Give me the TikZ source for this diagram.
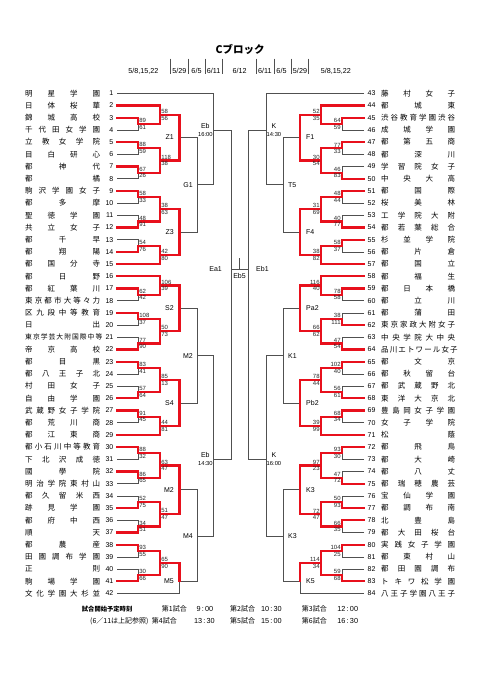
\documentclass[tikz,border=0pt]{standalone}
\usepackage{fontspec}
\setmainfont{Noto Sans CJK JP}
\newfontfamily\lat{Liberation Sans}
\definecolor{ln}{HTML}{505050}
\definecolor{rd}{HTML}{E8101C}
\pgfmathdeclarefunction{ry}{1}{\pgfmathparse{93.3+12.2*(#1-1)}}
\newcommand\defside[7]{%
 \foreach \mm/\rr in {A34/3.5,A56/5.5,A78/7.5,A910/9.5,A1112/11.5,A1314/13.5,A1718/17.5,A1920/19.5,A2122/21.5,A2324/23.5,A2526/25.5,A2728/27.5,A3031/30.5,A3233/32.5,A3435/34.5,A3637/36.5,A3839/38.5,A4041/40.5}
   {\coordinate (#1\mm) at (#2,{ry(\rr)});}
 \foreach \mm/\rr in {B2/2.75,B58/6.5,B912/10.5,B1315/14.25,B16/16.75,B1922/20.5,B2326/24.5,B2729/28.25,B3033/31.5,B3437/35.5,B3841/39.5}
   {\coordinate (#1\mm) at (#3,{ry(\rr)});}
 \foreach \mm/\rr in {Z1/4.625,Z3/12.375,S2/18.625,S4/26.375,M2b/33.5,M5/41}
   {\coordinate (#1\mm) at (#4,{ry(\rr)});}
 \foreach \mm/\rr in {G1/8.5,M2/22.5,M4/37.3}
   {\coordinate (#1\mm) at (#5,{ry(\rr)});}
 \coordinate (#1EbT) at (#6,130);
 \coordinate (#1EbL) at (#6,459);
 \coordinate (#1C) at (#7,269);
}
\newcommand\drawstruct[2]{%
 \foreach \aa/\bb in {1/EbT,2/B2,3/A34,4/A34,5/A56,6/A56,7/A78,8/A78,9/A910,10/A910,11/A1112,12/A1112,13/A1314,14/A1314,15/B1315,16/B16,17/A1718,18/A1718,19/A1920,20/A1920,21/A2122,22/A2122,23/A2324,24/A2324,25/A2526,26/A2526,27/A2728,28/A2728,29/B2729,30/A3031,31/A3031,32/A3233,33/A3233,34/A3435,35/A3435,36/A3637,37/A3637,38/A3839,39/A3839,40/A4041,41/A4041,42/M5}
  {\draw[bk] (#1t\aa.#2) -| (#1\bb);}
 \foreach \aa/\bb in {A34/B2,A56/B58,A78/B58,A910/B912,A1112/B912,A1314/B1315,A1718/B16,A1920/B1922,A2122/B1922,A2324/B2326,A2526/B2326,A2728/B2729,A3031/B3033,A3233/B3033,A3435/B3437,A3637/B3437,A3839/B3841,A4041/B3841,B2/Z1,B58/Z1,B912/Z3,B1315/Z3,B16/S2,B1922/S2,B2326/S4,B2729/S4,B3033/M2b,B3437/M2b,B3841/M5,Z1/G1,Z3/G1,S2/M2,S4/M2,M2b/M4,M5/M4,G1/EbT,M2/EbL,M4/EbL,EbT/C,EbL/C}
  {\draw[bk] (#1\aa) -| (#1\bb);}
}
\newcommand\redmatch[1]{%
 \foreach \aa/\bb in {A34/B2,A56/B58,A78/B58,A910/B912,A1112/B912,A1314/B1315,A1718/B16,A1920/B1922,A2122/B1922,A2324/B2326,A2526/B2326,A2728/B2729,A3031/B3033,A3233/B3033,A3435/B3437,A3637/B3437,A3839/B3841,A4041/B3841,B2/Z1,B58/Z1,B912/Z3,B1315/Z3,B16/S2,B1922/S2,B2326/S4,B2729/S4,B3033/M2b,B3437/M2b,B3841/M5}
  {\draw[rl] (#1\aa) -| (#1\bb);}
}
\begin{document}
\begin{tikzpicture}[x=1pt,y=-1pt,
  bk/.style={draw=ln,line width=0.7pt},
  rl/.style={draw=rd,line width=2.2pt,line cap=rect},
  num/.style={font=\lat\fontsize{7}{7}\selectfont,inner xsep=3.5pt,inner ysep=0pt},
  nmx/.style={font=\fontsize{7.5}{7.5}\selectfont,inner sep=0pt,anchor=west},
  sc/.style={font=\lat\fontsize{6}{6}\selectfont,inner sep=0pt,text=black!85},
  lb/.style={font=\lat\fontsize{7}{7}\selectfont,inner sep=1pt},
  tm/.style={font=\lat\fontsize{5.8}{5.8}\selectfont,inner sep=0.5pt},
  dt/.style={font=\lat\fontsize{7.2}{7.2}\selectfont,inner sep=0pt},
  ft/.style={font=\fontsize{7}{7}\selectfont,inner sep=0pt,anchor=west},
  ftt/.style={font=\lat\fontsize{7.3}{7.3}\selectfont,inner sep=0pt,anchor=east}]
\fill[white] (0,0) rectangle (481,680);
\useasboundingbox (0,0) rectangle (481,680);
% header
\node[font=\bfseries\fontsize{10.5}{10.5}\selectfont,inner sep=0pt] (title) at (240,49) {Cブロック};
\node[dt] (d1) at (143.3,71) {5/8,15,22};
\node[dt] (d2) at (179.4,71) {5/29};
\node[dt] (d3) at (196.5,71) {6/5};
\node[dt] (d4) at (213.7,71) {6/11};
\node[dt] (d5) at (239.7,71) {6/12};
\node[dt] (d6) at (264.8,71) {6/11};
\node[dt] (d7) at (281.5,71) {6/5};
\node[dt] (d8) at (300,71) {5/29};
\node[dt] (d9) at (335.8,71) {5/8,15,22};
\foreach \x in {170.3,188.7,205,222.3,256.7,274,291,308.3}
  \draw[ln,line width=0.5pt] (\x,58.5) -- (\x,74);
% left teams
\foreach \i/\nm in {1/{明 星 学 園},2/{日 体 桜 華},3/{錦 城 高 校},4/{千 代 田 女 学 園},5/{立 教 女 学 院},6/{目 白 研 心},7/{都 神 代},8/{都 橘},9/{駒 沢 学 園 女 子},10/{都 多 摩},11/{聖 徳 学 園},12/{共 立 女 子},13/{都 千 早},14/{都 翔 陽},15/{都 国 分 寺},16/{都 日 野},17/{都 紅 葉 川},18/{東 京 都 市 大 等 々 力},19/{区 九 段 中 等 教 育},20/{日 出},21/{\fontsize{6.8}{6.8}\selectfont 東 京 学 芸 大 附 国 際 中 等},22/{帝 京 高 校},23/{都 目 黒},24/{都 八 王 子 北},25/{村 田 女 子},26/{自 由 学 園},27/{武 蔵 野 女 子 学 院},28/{都 荒 川 商},29/{都 江 東 商},30/{都 小 石 川 中 等 教 育},31/{下 北 沢 成 徳},32/{國 學 院},33/{明 治 学 院 東 村 山},34/{都 久 留 米 西},35/{跡 見 学 園},36/{都 府 中 西},37/{順 天},38/{都 農 産},39/{田 園 調 布 学 園},40/{正 則},41/{駒 場 学 園},42/{文 化 学 園 大 杉 並}}{
  \node[num,anchor=east] (Lt\i) at (117,{ry(\i)}) {\i};
  \node[nmx] (Ln\i) at (25,{ry(\i)}) {\makebox[75pt][s]{\nm}};
}
% right teams
\foreach \i/\nm in {1/{藤 村 女 子},2/{都 城 東},3/{渋 谷 教 育 学 園 渋 谷},4/{成 城 学 園},5/{都 第 五 商},6/{都 深 川},7/{学 習 院 女 子},8/{中 央 大 高},9/{都 国 際},10/{桜 美 林},11/{工 学 院 大 附},12/{都 若 葉 総 合},13/{杉 並 学 院},14/{都 片 倉},15/{都 国 立},16/{都 福 生},17/{都 日 本 橋},18/{都 立 川},19/{都 蒲 田},20/{東 京 家 政 大 附 女 子},21/{中 央 学 院 大 中 央},22/{品 川 エ ト ワ ー ル 女 子},23/{都 文 京},24/{都 秋 留 台},25/{都 武 蔵 野 北},26/{東 洋 大 京 北},27/{豊 島 岡 女 子 学 園},28/{女 子 学 院},29/{松 蔭},30/{都 飛 鳥},31/{都 大 崎},32/{都 八 丈},33/{都 瑞 穂 農 芸},34/{宝 仙 学 園},35/{都 調 布 南},36/{北 豊 島},37/{都 大 田 桜 台},38/{実 践 女 子 学 園},39/{都 東 村 山},40/{都 田 園 調 布},41/{ト キ ワ 松 学 園},42/{八 王 子 学 園 八 王 子}}{
  \pgfmathtruncatemacro\jj{\i+42}
  \node[num,anchor=west] (Rt\i) at (364,{ry(\i)}) {\jj};
  \node[nmx] (Rn\i) at (381,{ry(\i)}) {\makebox[74pt][s]{\nm}};
}
% bracket coordinates
\defside{L}{138}{160}{179.5}{197}{213.3}{231}
\defside{R}{342}{321}{300}{283}{266}{248}
\coordinate (tk) at (239.5,258);
% black structure
\drawstruct{L}{east}
\drawstruct{R}{west}
\draw[bk] (LC) -- (RC);
\draw[bk] (tk) -- (tk |- LC);
% red paths
\redmatch{L}
\redmatch{R}
\foreach \aa/\bb in {2/B2,3/A34,5/A56,7/A78,9/A910,12/A1112,14/A1314,15/B1315,16/B16,17/A1718,19/A1920,22/A2122,23/A2324,26/A2526,27/A2728,29/B2729,30/A3031,32/A3233,35/A3435,37/A3637,38/A3839,41/A4041}
  {\draw[rl] (Lt\aa.east) -| (L\bb);}
\foreach \aa/\bb in {2/B2,3/A34,5/A56,8/A78,9/A910,12/A1112,13/A1314,15/B1315,16/B16,17/A1718,20/A1920,22/A2122,23/A2324,26/A2526,27/A2728,29/B2729,30/A3031,33/A3233,35/A3435,36/A3637,38/A3839,41/A4041}
  {\draw[rl] (Rt\aa.west) -| (R\bb);}
% scores
\foreach \mm/\scA/\scB in {A34/89/61,B2/58/56,A56/88/59,A78/67/26,B58/118/38,A910/58/33,A1112/48/91,B912/38/63,A1314/54/76,B1315/42/80,A1718/62/42,B16/106/39,A1920/108/37,A2122/77/90,B1922/50/73,A2324/83/41,A2526/57/64,B2326/85/13,A2728/91/45,B2729/44/81,A3031/88/32,A3233/86/65,B3033/63/47,A3435/52/75,A3637/34/51,B3437/51/47,A3839/93/55,A4041/30/66,B3841/65/90}{
  \node[sc,anchor=south west] (Lsa\mm) at ([xshift=1.2pt,yshift=1pt]L\mm) {\scA};
  \node[sc,anchor=north west] (Lsb\mm) at ([xshift=1.2pt,yshift=-1pt]L\mm) {\scB};
}
\foreach \mm/\scA/\scB in {A34/64/59,B2/52/35,A56/77/33,A78/46/83,B58/30/54,A910/48/44,A1112/40/77,B912/31/69,A1314/58/37,B1315/38/82,A1718/78/58,B16/116/40,A1920/38/111,A2122/47/54,B1922/66/62,A2324/102/40,A2526/56/61,B2326/78/44,A2728/68/34,B2729/39/99,A3031/93/30,A3233/47/72,B3033/97/23,A3435/50/93,A3637/66/35,B3437/72/47,A3839/104/25,A4041/59/68,B3841/114/34}{
  \node[sc,anchor=south east] (Rsa\mm) at ([xshift=-1.2pt,yshift=1pt]R\mm) {\scA};
  \node[sc,anchor=north east] (Rsb\mm) at ([xshift=-1.2pt,yshift=-1pt]R\mm) {\scB};
}
% round labels
\foreach \mm/\tx in {Z1/Z1,Z3/Z3,S2/S2,S4/S4,M2b/M2,M5/M5}
  {\node[lb,anchor=east] (Llb\mm) at ([xshift=-4.5pt]L\mm) {\tx};}
\foreach \mm/\tx in {G1/G1,M2/M2,M4/M4}
  {\node[lb,anchor=east] (Llb\mm) at ([xshift=-3pt]L\mm) {\tx};}
\foreach \mm/\tx in {Z1/F1,Z3/F4,S2/Pa2,S4/Pb2,M2b/K3,M5/K5}
  {\node[lb,anchor=west] (Rlb\mm) at ([xshift=5pt]R\mm) {\tx};}
\foreach \mm/\tx in {G1/T5,M2/K1,M4/K3}
  {\node[lb,anchor=west] (Rlb\mm) at ([xshift=4pt]R\mm) {\tx};}
% Eb / K labels with times
\node[tm,anchor=north east] (LEbTt) at ([yshift=-1.5pt]LEbT) {16:00};
\node[lb,anchor=south] (LEbTl) at ([yshift=1.5pt]LEbTt.north) {Eb};
\node[tm,anchor=north east] (LEbLt) at ([yshift=-1.5pt]LEbL) {14:30};
\node[lb,anchor=south] (LEbLl) at ([yshift=1.5pt]LEbLt.north) {Eb};
\node[tm,anchor=north west] (REbTt) at ([yshift=-1.5pt]REbT) {14:30};
\node[lb,anchor=south] (REbTl) at ([yshift=1.5pt]REbTt.north) {K};
\node[tm,anchor=north west] (REbLt) at ([yshift=-1.5pt]REbL) {16:00};
\node[lb,anchor=south] (REbLl) at ([yshift=1.5pt]REbLt.north) {K};
% centre labels
\node[lb,anchor=east] (Ea1) at ([xshift=-8pt]LC) {Ea1};
\node[lb,anchor=north] (Eb5) at ([yshift=-3.5pt]tk |- LC) {Eb5};
\node[lb,anchor=west] (Eb1) at ([xshift=7pt]RC) {Eb1};
% footer
\node[font=\bfseries\fontsize{6.3}{6.3}\selectfont,inner sep=0pt,anchor=west] (f0) at (81.7,609) {試合開始予定時刻};
\node[ft] (f1) at (161.7,609) {第1試合};
\node[ftt] (f2) at (213.5,609) {9\,:\,00};
\node[ft] (f3) at (230,609) {第2試合};
\node[ftt] (f4) at (282,609) {10\,:\,30};
\node[ft] (f5) at (301.7,609) {第3試合};
\node[ftt] (f6) at (358.3,609) {12\,:\,00};
\node[ft] (g0) at (90,621) {(6／11は上記参照)};
\node[ft] (g1) at (151.7,621) {第4試合};
\node[ftt] (g2) at (215,621) {13\,:\,30};
\node[ft] (g3) at (230,621) {第5試合};
\node[ftt] (g4) at (282,621) {15\,:\,00};
\node[ft] (g5) at (301.7,621) {第6試合};
\node[ftt] (g6) at (358.3,621) {16\,:\,30};
\end{tikzpicture}
\end{document}
